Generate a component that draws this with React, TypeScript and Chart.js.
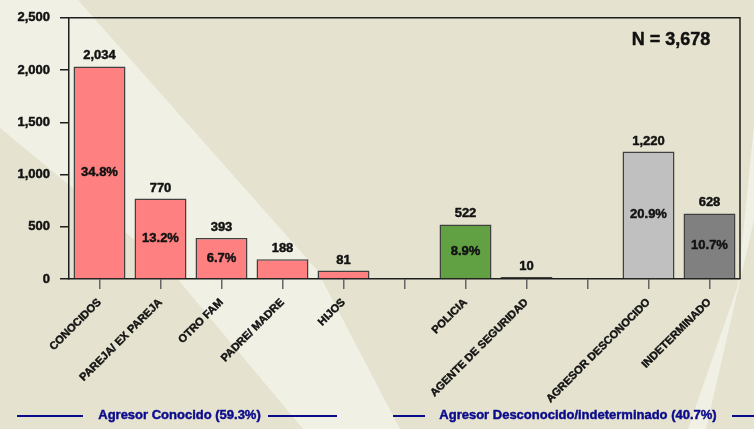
import React, { useEffect, useRef } from 'react';
import { Chart, registerables } from 'chart.js';

Chart.register(...registerables);

// ---- data ----
const categories = [
  'CONOCIDOS',
  'PAREJA/ EX PAREJA',
  'OTRO FAM',
  'PADRE/ MADRE',
  'HIJOS',
  '',
  'POLICIA',
  'AGENTE DE SEGURIDAD',
  '',
  'AGRESOR DESCONOCIDO',
  'INDETERMINADO',
];
const counts: (number | null)[] = [2034, 770, 393, 188, 81, null, 522, 10, null, 1220, 628];
const percentLabels = ['34.8%', '13.2%', '6.7%', '', '', '', '8.9%', '', '', '20.9%', '10.7%'];
const barColors = [
  '#FF8080', '#FF8080', '#FF8080', '#FF8080', '#FF8080',
  '#FF8080',
  '#62A044', '#62A044',
  '#C0C0C0',
  '#C0C0C0', '#808080',
];
const yMin = 0;
const yMax = 2500;
const yStep = 500;
const totalLabel = 'N = 3,678';
const groupLabels = ['Agresor Conocido (59.3%)', 'Agresor Desconocido/indeterminado (40.7%)'];

const FONT = 'Arial, "Liberation Sans", Helvetica, sans-serif';
const NAVY = '#0A0A8C';
const INK = '#111111';

function heavyText(ctx: CanvasRenderingContext2D, text: string, x: number, y: number, color: string) {
  ctx.fillStyle = color;
  ctx.strokeStyle = color;
  ctx.lineWidth = 0.45;
  ctx.lineJoin = 'round';
  ctx.strokeText(text, x, y);
  ctx.fillText(text, x, y);
}

const backgroundPlugin = {
  id: 'bgDeco',
  beforeDraw(chart: any) {
    const { ctx, width, height } = chart;
    ctx.save();
    ctx.fillStyle = '#E5E3CF';
    ctx.fillRect(0, 0, width, height);
    ctx.fillStyle = '#F0F0E4';
    ctx.beginPath();
    ctx.moveTo(0, 0);
    ctx.lineTo(78, 0);
    ctx.lineTo(317, 270);
    ctx.lineTo(400, 429);
    ctx.lineTo(303, 429);
    ctx.lineTo(170, 270);
    ctx.lineTo(69, 185);
    ctx.lineTo(0, 128);
    ctx.closePath();
    ctx.fill();
    ctx.beginPath();
    ctx.moveTo(754, 125);
    ctx.lineTo(754, 220);
    ctx.lineTo(706, 429);
    ctx.lineTo(688, 429);
    ctx.lineTo(738, 285);
    ctx.closePath();
    ctx.fill();
    ctx.restore();
  },
};

const labelsPlugin = {
  id: 'barLabels',
  afterDatasetsDraw(chart: any) {
    const { ctx, chartArea } = chart;
    ctx.save();
    ctx.strokeStyle = '#1E1E1E';
    ctx.lineWidth = 1.5;
    ctx.beginPath();
    ctx.moveTo(chartArea.left, chartArea.top);
    ctx.lineTo(chartArea.right, chartArea.top);
    ctx.lineTo(chartArea.right, chartArea.bottom);
    ctx.stroke();

    const meta = chart.getDatasetMeta(0);
    meta.data.forEach((bar: any, i: number) => {
      const v = counts[i];
      if (v == null) return;
      const { x, y, base } = bar.getProps(['x', 'y', 'base'], true);
      ctx.font = `700 13px ${FONT}`;
      ctx.textAlign = 'center';
      ctx.textBaseline = 'alphabetic';
      heavyText(ctx, v.toLocaleString('en-US'), x, y - 7, INK);
      if (percentLabels[i]) {
        ctx.textBaseline = 'middle';
        heavyText(ctx, percentLabels[i], x, (y + base) / 2, INK);
      }
    });

    ctx.font = `700 18px ${FONT}`;
    ctx.textAlign = 'center';
    ctx.textBaseline = 'middle';
    heavyText(ctx, totalLabel, 671, 40, INK);
    ctx.restore();
  },
  afterDraw(chart: any) {
    const { ctx } = chart;
    ctx.save();
    ctx.strokeStyle = NAVY;
    ctx.lineWidth = 2;
    ctx.beginPath();
    ctx.moveTo(17, 416); ctx.lineTo(83, 416);
    ctx.moveTo(268, 416); ctx.lineTo(337, 416);
    ctx.moveTo(393, 416); ctx.lineTo(425, 416);
    ctx.moveTo(732, 416); ctx.lineTo(754, 416);
    ctx.stroke();
    ctx.font = `700 13px ${FONT}`;
    ctx.textAlign = 'center';
    ctx.textBaseline = 'middle';
    heavyText(ctx, groupLabels[0], 179.5, 415, NAVY);
    heavyText(ctx, groupLabels[1], 578, 415, NAVY);
    ctx.restore();
  },
};

export default function App() {
  const canvasRef = useRef<HTMLCanvasElement | null>(null);

  useEffect(() => {
    if (!canvasRef.current) return;
    const chart = new Chart(canvasRef.current, {
      type: 'bar',
      data: {
        labels: categories,
        datasets: [
          {
            data: counts as any,
            backgroundColor: barColors,
            borderColor: '#404040',
            borderWidth: 1.5,
            borderSkipped: (c: any) => (c.dataIndex === 7 ? false : 'start'),
            minBarLength: 2,
            categoryPercentage: 1,
            barPercentage: 0.852,
          },
        ],
      },
      options: {
        responsive: false,
        animation: false,
        devicePixelRatio: 1,
        layout: { padding: { left: 0, top: 14, right: 14, bottom: 0 } },
        plugins: {
          legend: { display: false },
          tooltip: { enabled: false },
        },
        scales: {
          x: {
            offset: true,
            grid: {
              offset: false,
              drawOnChartArea: false,
              drawTicks: true,
              tickLength: 10,
              color: '#666666',
              lineWidth: 1.5,
            },
            border: { display: true, color: '#1E1E1E', width: 1.5 },
            ticks: {
              autoSkip: false,
              minRotation: 45,
              maxRotation: 45,
              padding: 7,
              color: INK,
              textStrokeColor: INK,
              textStrokeWidth: 0.4,
              font: { family: FONT, size: 11, weight: '700' },
            },
            afterFit(scale: any) {
              scale.height = 150;
            },
          },
          y: {
            min: yMin,
            max: yMax,
            ticks: {
              stepSize: yStep,
              padding: 10,
              color: INK,
              textStrokeColor: INK,
              textStrokeWidth: 0.45,
              font: { family: FONT, size: 13, weight: '700' },
              callback: (v: any) => Number(v).toLocaleString('en-US'),
            },
            grid: {
              drawOnChartArea: false,
              drawTicks: true,
              tickLength: 9,
              color: '#1E1E1E',
              lineWidth: 1.5,
            },
            border: { display: true, color: '#1E1E1E', width: 1.5 },
            afterFit(scale: any) {
              scale.width = 69;
            },
          },
        },
      },
      plugins: [backgroundPlugin, labelsPlugin],
    } as any);
    if ((document as any).fonts && (document as any).fonts.ready) {
      (document as any).fonts.ready.then(() => {
        try { chart.update(); } catch (e) { /* destroyed */ }
      });
    }
    return () => chart.destroy();
  }, []);

  return (
    <div style={{ position: 'fixed', left: 0, top: 0, width: 754, height: 429 }}>
      <canvas ref={canvasRef} width={754} height={429} style={{ display: 'block', width: 754, height: 429 }} />
    </div>
  );
}
